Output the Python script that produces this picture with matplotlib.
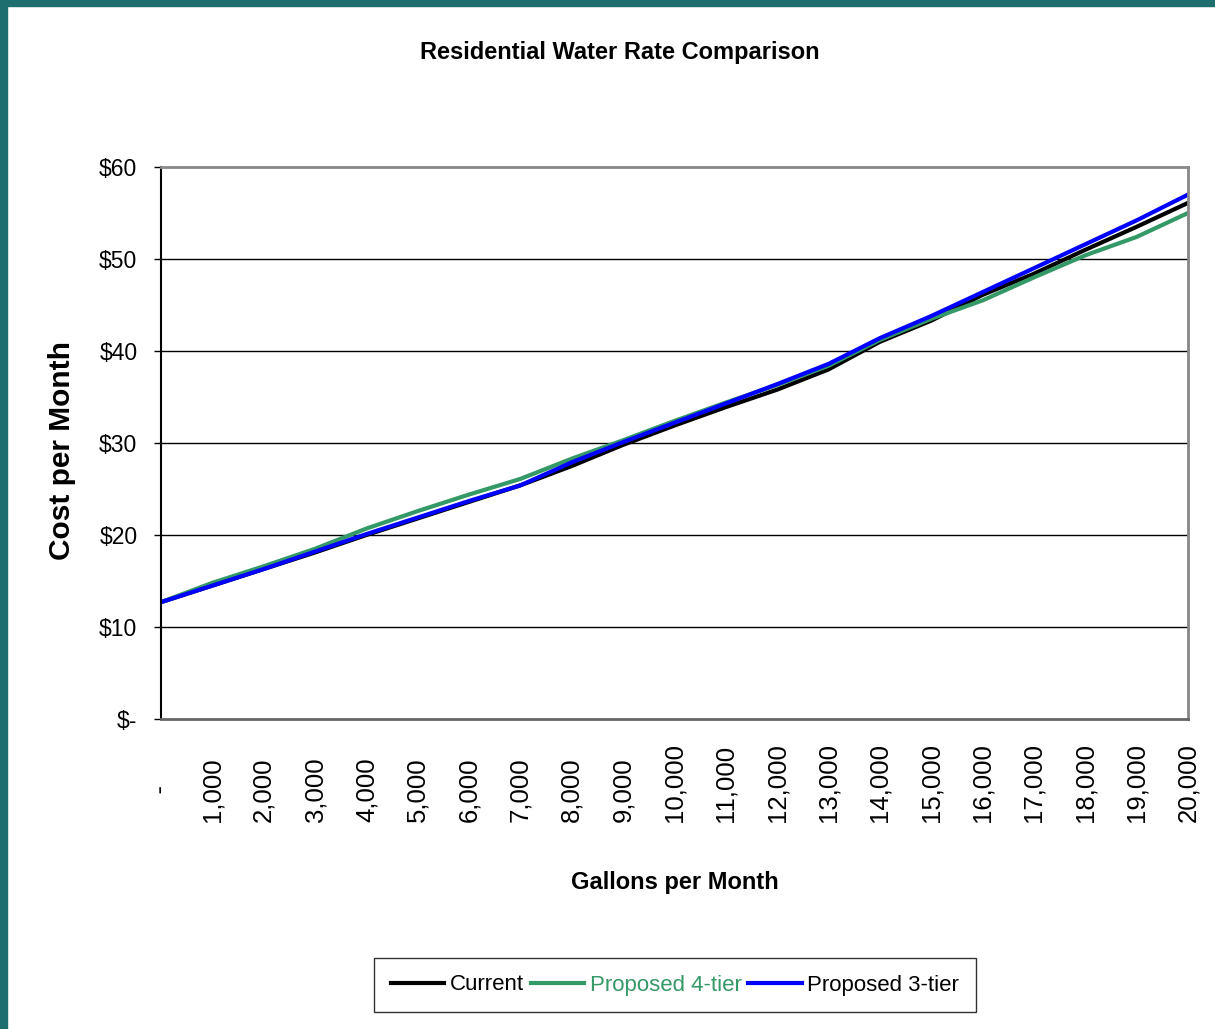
import matplotlib
matplotlib.use("Agg")
import matplotlib.pyplot as plt
from matplotlib.patches import Rectangle

# data
gallons = list(range(0, 21000, 1000))
current = [12.7, 14.5, 16.3, 18.1, 20.0, 21.8, 23.6, 25.4, 27.5, 29.8, 31.9,
           33.9, 35.8, 38.0, 41.0, 43.3, 46.1, 48.4, 51.0, 53.5, 56.1]
tier4 = [12.7, 14.8, 16.6, 18.5, 20.7, 22.6, 24.4, 26.1, 28.3, 30.3, 32.4,
         34.4, 36.3, 38.4, 41.2, 43.5, 45.5, 48.0, 50.4, 52.4, 55.0]
tier3 = [12.7, 14.5, 16.3, 18.2, 20.1, 21.9, 23.7, 25.4, 27.9, 30.1, 32.2,
         34.3, 36.4, 38.6, 41.4, 43.8, 46.4, 49.0, 51.6, 54.2, 57.0]
xlabels = ["    -"] + ["{:,}".format(g) for g in gallons[1:]]
ylabels = ["$-", "$10", "$20", "$30", "$40", "$50", "$60"]

plt.rcParams['font.family'] = ['Liberation Sans', 'DejaVu Sans']

green = '#339966'

fig = plt.figure(figsize=(12.15, 10.29), dpi=100)
ax = fig.add_axes([161/1215, 1-719/1029, (1188-161)/1215, (719-167)/1029])

ax.plot(gallons, current, color='black', lw=3, label='Current')
ax.plot(gallons, tier4, color=green, lw=3, label='Proposed 4-tier')
ax.plot(gallons, tier3, color='#0000ff', lw=3, label='Proposed 3-tier')

ax.set_xlim(0, 20000)
ax.set_ylim(0, 60)
ax.set_yticks(range(0, 70, 10))
ax.set_yticklabels(ylabels, fontsize=16.5)
ax.set_xticks(gallons)
ax.set_xticklabels(xlabels, rotation=90, fontsize=18.5, va='bottom')
ax.tick_params(axis='x', length=0, pad=74)
ax.set_xticks([0], minor=True)
ax.tick_params(axis='x', which='minor', length=5, direction='out', color='black')
ax.tick_params(axis='y', length=5, direction='out', width=1, pad=12)

for y in range(10, 60, 10):
    ax.axhline(y, color='black', lw=1, zorder=0)

ax.spines['top'].set_color('#888888')
ax.spines['top'].set_linewidth(2)
ax.spines['right'].set_color('#888888')
ax.spines['right'].set_linewidth(2)
ax.spines['bottom'].set_color('#666666')
ax.spines['bottom'].set_linewidth(2)
ax.spines['left'].set_color('black')
ax.spines['left'].set_linewidth(1.5)

fig.text(620/1215, 1-52/1029, 'Residential Water Rate Comparison', ha='center', va='center',
         fontsize=17, fontweight='bold')
fig.text(675/1215, 1-883/1029, 'Gallons per Month', ha='center', va='center',
         fontsize=17, fontweight='bold')
fig.text(62/1215, 1-450/1029, 'Cost per Month', ha='center', va='center', rotation=90,
         fontsize=21.5, fontweight='bold')

leg = ax.legend(loc='center', bbox_to_anchor=(675/1215, 1-985/1029), bbox_transform=fig.transFigure,
                ncol=3, fontsize=16, frameon=True, fancybox=False, edgecolor='black',
                handlelength=2.4, handletextpad=0.25, columnspacing=0.3, borderpad=0.75,
                borderaxespad=0)
leg.get_frame().set_linewidth(1)
leg.get_texts()[1].set_color(green)

# teal frame at top and left
fig.patches.append(Rectangle((0, 1-6/1029), 1, 6/1029, transform=fig.transFigure,
                             color='#1f6e6e', zorder=-1))
fig.patches.append(Rectangle((0, 0), 7/1215, 1, transform=fig.transFigure,
                             color='#1f6e6e', zorder=-1))

fig.savefig('out.png', dpi=100)
